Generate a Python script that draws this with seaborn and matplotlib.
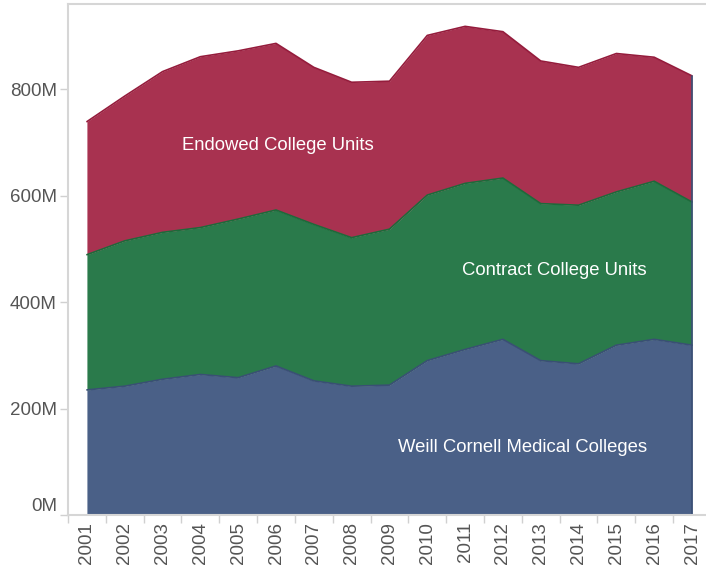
import matplotlib
matplotlib.use("Agg")
import matplotlib.pyplot as plt
import seaborn as sns
import numpy as np
from matplotlib.ticker import FuncFormatter, FixedLocator

years = list(range(2001, 2018))
weill = [235, 242, 255, 264, 258, 280, 252, 242, 244, 290, 311, 330, 290, 284, 319, 330, 319]
contract = [254, 273, 276, 276, 298, 293, 294, 279, 293, 311, 312, 303, 295, 298, 288, 297, 269]
endowed = [250, 272, 302, 321, 316, 313, 295, 292, 278, 300, 295, 275, 268, 259, 260, 233, 237]
series_names = ["Weill Cornell Medical Colleges", "Contract College Units", "Endowed College Units"]

fills = ["#4a6087", "#2a7a4b", "#a83250"]
edges = ["#3a4f75", "#1d6a3a", "#951c3c"]

sns.set_theme(style="white")
plt.rcParams["font.family"] = ["Liberation Sans", "DejaVu Sans"]

fig = plt.figure(figsize=(7.06, 5.67), dpi=100)
ax = fig.add_axes([68 / 706, 52 / 567, 638 / 706, 511 / 567])

x = np.arange(len(years))
ax.stackplot(x, weill, contract, endowed, colors=fills, edgecolor=None, linewidth=0)

# outline of each band on top of the fills
tops = np.cumsum([weill, contract, endowed], axis=0)
for top, ec in zip(tops, edges):
    ax.plot(x, top, color=ec, linewidth=1.2)
ax.plot([x[-1], x[-1]], [0, tops[-1][-1]], color=edges[0], lw=1.2)

ax.set_xlim(-0.5, 16.37)
ax.set_ylim(0, 960)

ax.set_yticks([0, 200, 400, 600, 800])
ax.yaxis.set_major_formatter(FuncFormatter(lambda v, p: f"{v:.0f}M"))
ax.set_xticks(x)
ax.set_xticklabels([str(y) for y in years])
ax.xaxis.set_minor_locator(FixedLocator(np.arange(-0.5, 17, 1.0)))

ax.tick_params(axis="y", which="major", length=6, width=1, color="#d0d0d0",
               labelsize=13.5, labelcolor="#555555", pad=2, left=True)
ax.tick_params(axis="x", which="major", length=0, labelsize=13.5,
               labelcolor="#555555", pad=5, labelrotation=90)
ax.tick_params(axis="x", which="minor", length=6, width=1, color="#d0d0d0", bottom=True)

# the zero label sits above its tick
ylabels = ax.get_yticklabels()
ylabels[0].set_verticalalignment("bottom")

for side in ["left", "bottom", "top"]:
    ax.spines[side].set_color("#d6d6d6")
    ax.spines[side].set_linewidth(1.5)
ax.spines["right"].set_visible(False)

ax.text(5.05, 695, series_names[2], color="white", fontsize=13.3, ha="center", va="center")
ax.text(12.35, 460, series_names[1], color="white", fontsize=13.3, ha="center", va="center")
ax.text(11.53, 126, series_names[0], color="white", fontsize=13.3, ha="center", va="center")

ax.set_xlabel("")
ax.set_ylabel("")

fig.savefig("out.png", dpi=100)
